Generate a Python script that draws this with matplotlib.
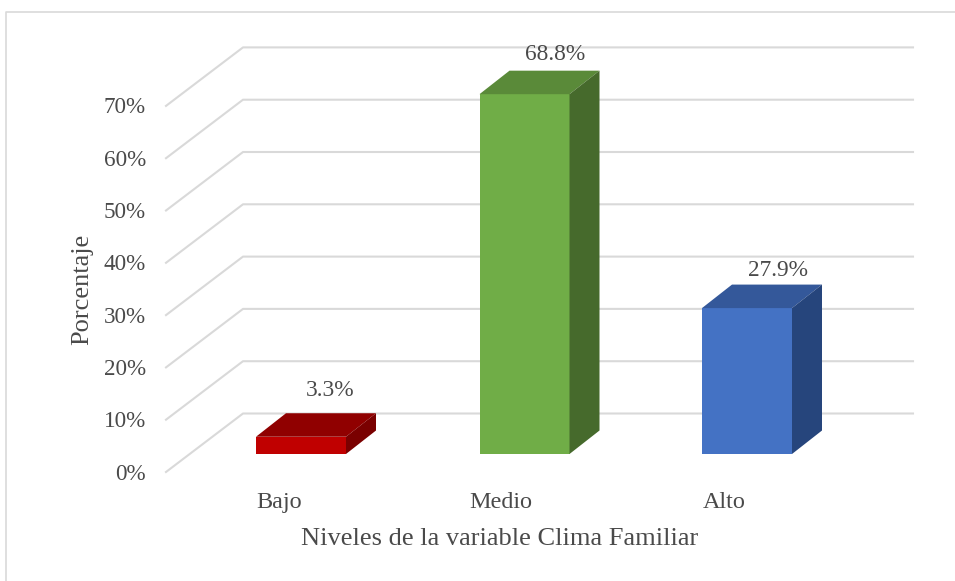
import matplotlib.pyplot as plt
from matplotlib.patches import Polygon, Rectangle

plt.rcParams['font.family'] = 'Liberation Serif'

categories = ['Bajo', 'Medio', 'Alto']
values = [3.3, 68.8, 27.9]
labels = ['3.3%', '68.8%', '27.9%']
ticks = [0, 10, 20, 30, 40, 50, 60, 70]
front_colors = ['#C00000', '#70AD47', '#4472C4']
top_colors = ['#900000', '#5A8A39', '#34589A']
side_colors = ['#7A0000', '#466A2C', '#26457C']
text_color = '#4A4A4A'
grid_color = '#D9D9D9'

W, H = 955, 581
fig = plt.figure(figsize=(W / 100, H / 100), dpi=100)
ax = fig.add_axes([0, 0, 1, 1])
ax.set_xlim(0, W)
ax.set_ylim(H, 0)
ax.axis('off')

# frame of the chart area (only top and left show in the screenshot)
ax.plot([6, 6, 955], [581, 12, 12], color=grid_color, lw=1.2)

# pixels per percent, front plane zero and back wall zero
scale = 5.23
front_zero = 472
back_zero = 413.5
wall_x0, wall_x1, floor_x0 = 243, 913, 166
for t in ticks:
    yf = front_zero - t * scale
    yb = back_zero - t * scale
    ax.plot([floor_x0, wall_x0, wall_x1], [yf, yb, yb], color=grid_color, lw=1.5)
    ax.text(146, yf + 2, '%d%%' % t, ha='right', va='center', fontsize=16.7, color=text_color)

bar_left = [256, 479.5, 702]
bar_w = 90
dx, dy = 30, 23.5
base = 454
label_x = [330, 555, 778]
label_y = [391, 55, 270]
cat_x = [279, 501, 724]
for i, v in enumerate(values):
    x0 = bar_left[i]
    top = base - v * scale
    ax.add_patch(Rectangle((x0, top), bar_w, base - top, fc=front_colors[i], ec='none', zorder=3))
    ax.add_patch(Polygon([(x0, top), (x0 + dx, top - dy), (x0 + bar_w + dx, top - dy), (x0 + bar_w, top)],
                         fc=top_colors[i], ec='none', zorder=3))
    ax.add_patch(Polygon([(x0 + bar_w, top), (x0 + bar_w + dx, top - dy), (x0 + bar_w + dx, base - dy), (x0 + bar_w, base)],
                         fc=side_colors[i], ec='none', zorder=3))
    ax.text(label_x[i], label_y[i], labels[i], ha='center', va='center', fontsize=16.8, color=text_color, zorder=4)
    ax.text(cat_x[i], 502.5, categories[i], ha='center', va='center', fontsize=17.4, color=text_color)

ax.text(500, 539, 'Niveles de la variable Clima Familiar', ha='center', va='center', fontsize=19, color=text_color)
ax.text(82, 289, 'Porcentaje', ha='center', va='center', rotation=90, fontsize=19, color=text_color)

fig.savefig('out.png', dpi=100)
